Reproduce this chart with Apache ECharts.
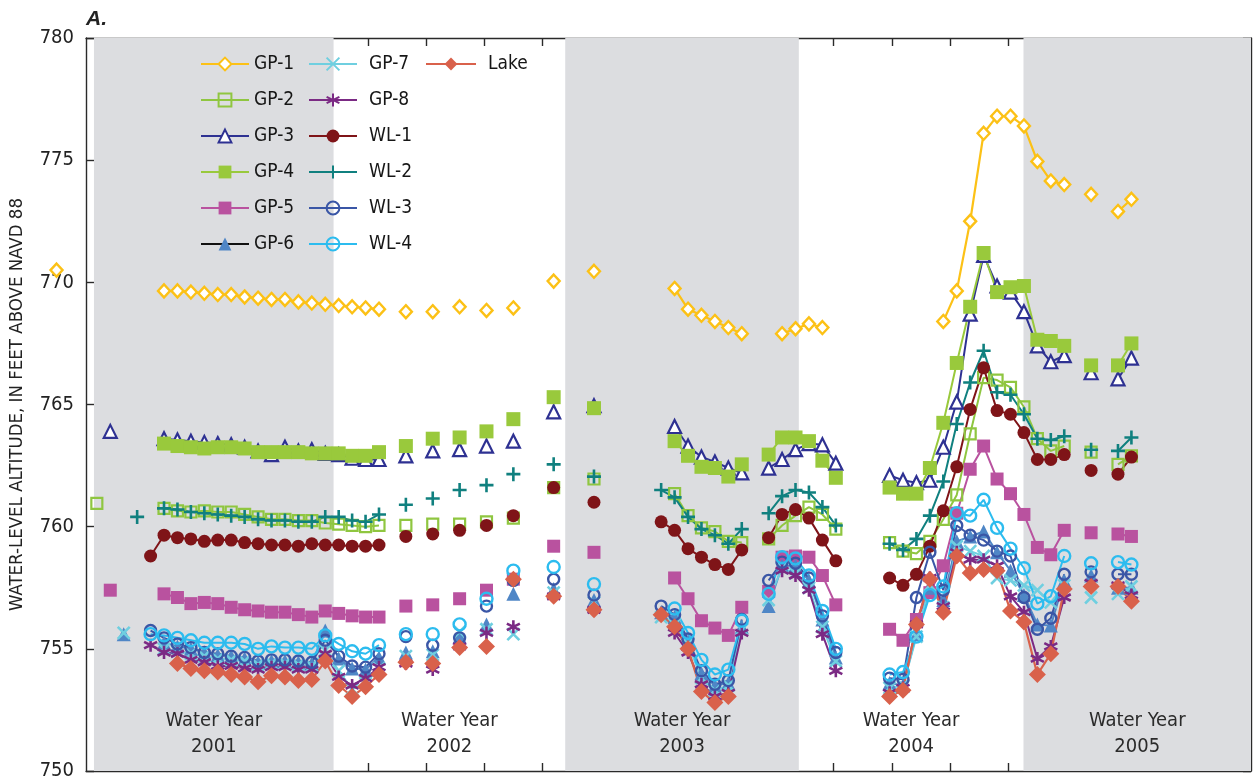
<!DOCTYPE html>
<html>
<head>
<meta charset="utf-8">
<script src="https://cdn.jsdelivr.net/npm/echarts@6/dist/echarts.min.js"></script>
<style>
html,body{margin:0;padding:0;background:#fff;}
#chart{width:1257px;height:782px;}
</style>
</head>
<body>
<div id="chart"></div>
<script>
const NA = null;

// Sampling dates, weeks from the start of the record (3-week sampling grid)
const weeks = [
  -4.5, -1.5, 1.5, 4.5, 7.5, 10.5, 13.5, 16.5,
  19.5, 22.5, 25.5, 28.5, 31.5, 34.5, 37.5, 40.5, 43.5, 46.5, 49.5, 52.5, 55.5, 58.5, 61.5, 64.5, 67.5,
  70.5, 73.5, 76.5, 79.5, 82.5, 85.5, 88.5, 91.5, 94.5, 97.5, 100.5, 103.5, 106.5, 109.5, 112.5, 115.5, 118.5, 121.5, 124.5, 127.5,
  130.5, 133.5, 136.5, 139.5, 142.5, 145.5, 148.5, 151.5, 154.5, 157.5, 160.5, 163.5, 166.5, 169.5, 172.5, 175.5, 178.5,
  181.5, 184.5, 187.5, 190.5, 193.5, 196.5, 199.5, 202.5, 205.5, 208.5, 211.5, 214.5, 217.5, 220.5, 223.5, 226.5, 229.5, 232.5, 235.5
];

// Water-level altitudes, feet above NAVD 88 (NA = not measured)
const gp1 = [
  770.5, NA, NA, NA, NA, NA, NA, NA,
  769.65, 769.65, 769.6, 769.55, 769.5, 769.5, 769.4, 769.35, 769.3, 769.3, 769.2, 769.15, 769.1, 769.05, 769.0, 768.95, 768.9,
  NA, 768.8, NA, 768.8, NA, 769.0, NA, 768.85, NA, 768.95, NA, NA, 770.05, NA, NA, 770.45, NA, NA, NA, NA,
  NA, 769.75, 768.9, 768.65, 768.4, 768.15, 767.9, NA, NA, 767.9, 768.1, 768.3, 768.15, NA, NA, NA, NA,
  NA, NA, NA, NA, 768.4, 769.65, 772.5, 776.1, 776.8, 776.8, 776.4, 774.95, 774.15, 774.0, NA, 773.6, NA, 772.9, 773.4
];
const gp2 = [
  NA, NA, NA, 760.95, NA, NA, NA, NA,
  760.75, 760.65, 760.6, 760.65, 760.6, 760.6, 760.5, 760.4, 760.3, 760.3, 760.25, 760.25, 760.15, 760.1, 760.05, 760.0, 760.05,
  NA, 760.05, NA, 760.1, NA, 760.1, NA, 760.2, NA, 760.35, NA, NA, 761.6, NA, NA, 761.95, NA, NA, NA, NA,
  NA, 761.35, 760.45, 759.95, 759.8, 759.4, 759.35, NA, 759.5, 760.05, 760.45, 760.8, 760.5, 759.9, NA, NA, NA,
  759.35, 759.0, 758.9, 759.4, 760.3, 761.3, 763.8, 766.1, 766.0, 765.7, 764.9, 763.6, 763.1, 763.3, NA, 763.05, NA, 762.55, 762.9
];
const gp3 = [
  NA, NA, NA, NA, 763.9, NA, NA, NA,
  763.6, 763.55, 763.5, 763.45, 763.4, 763.35, 763.25, 763.1, 762.95, 763.25, 763.1, 763.15, 763.0, 762.95, 762.8, 762.75, 762.75,
  NA, 762.9, NA, 763.1, NA, 763.15, NA, 763.3, NA, 763.5, NA, NA, 764.7, NA, NA, 764.95, NA, NA, NA, NA,
  NA, 764.1, 763.3, 762.85, 762.65, 762.4, 762.2, NA, 762.4, 762.75, 763.15, 763.4, 763.35, 762.6, NA, NA, NA,
  762.1, 761.9, 761.8, 761.9, 763.25, 765.1, 768.7, 771.1, 769.85, 769.6, 768.8, 767.4, 766.75, 767.0, NA, 766.3, NA, 766.05, 766.9
];
const gp4 = [
  NA, NA, NA, NA, NA, NA, NA, NA,
  763.4, 763.3, 763.25, 763.2, 763.25, 763.25, 763.2, 763.05, 763.05, 763.05, 763.05, 763.0, 763.0, 763.0, 762.9, 762.9, 763.05,
  NA, 763.3, NA, 763.6, NA, 763.65, NA, 763.9, NA, 764.4, NA, NA, 765.3, NA, NA, 764.85, NA, NA, NA, NA,
  NA, 763.5, 762.9, 762.45, 762.4, 762.05, 762.55, NA, 762.95, 763.65, 763.65, 763.5, 762.7, 762.0, NA, NA, NA,
  761.6, 761.35, 761.35, 762.4, 764.25, 766.7, 769.0, 771.2, 769.6, 769.8, 769.85, 767.65, 767.6, 767.4, NA, 766.6, NA, 766.6, 767.5
];
const gp5 = [
  NA, NA, NA, NA, 757.4, NA, NA, NA,
  757.25, 757.1, 756.85, 756.9, 756.85, 756.7, 756.6, 756.55, 756.5, 756.5, 756.4, 756.3, 756.55, 756.45, 756.35, 756.3, 756.3,
  NA, 756.75, NA, 756.8, NA, 757.05, NA, 757.4, NA, 757.85, NA, NA, 759.2, NA, NA, 758.95, NA, NA, NA, NA,
  NA, 757.9, 757.05, 756.15, 755.85, 755.55, 756.7, NA, 757.35, 758.75, 758.8, 758.75, 758.0, 756.8, NA, NA, NA,
  755.8, 755.35, 756.2, 757.3, 758.4, 760.55, 762.35, 763.3, 761.95, 761.35, 760.5, 759.15, 758.85, 759.85, NA, 759.75, NA, 759.7, 759.6
];
const gp6 = [
  NA, NA, NA, NA, NA, 755.6, NA, NA,
  755.25, 755.1, 755.0, 754.85, 754.75, 754.7, 754.6, 754.45, 754.5, 754.5, 754.45, 754.4, 755.75, 754.6, 754.2, 754.15, 754.65,
  NA, 754.85, NA, 754.9, NA, 755.5, NA, 756.0, NA, 757.25, NA, NA, 757.45, NA, NA, 757.0, NA, NA, NA, NA,
  756.5, 756.3, 755.3, 754.0, 753.5, 753.6, 755.9, NA, 756.75, 758.4, 758.4, 757.8, 756.2, 754.65, NA, NA, NA,
  753.6, 753.5, 755.6, 757.5, 757.0, 759.4, 759.6, 759.8, 758.95, 758.2, 757.2, 756.0, 755.95, 757.8, NA, 758.0, NA, 757.5, 757.5
];
const gp7 = [
  NA, NA, NA, NA, NA, 755.65, NA, NA,
  755.0, 754.9, 754.8, 754.7, 754.6, 754.55, 754.5, 754.35, 754.4, 754.4, 754.35, 754.3, 754.95, 754.1, 753.35, 753.6, 754.2,
  NA, 754.7, NA, 754.75, NA, 755.7, NA, 755.8, NA, 755.6, NA, NA, 757.3, NA, NA, 756.9, NA, NA, NA, NA,
  756.3, 756.0, 755.2, 753.8, 753.3, 753.5, 755.8, NA, 757.0, 758.3, 758.1, 757.5, 755.9, 754.5, NA, NA, NA,
  753.4, 753.5, 755.5, 757.6, 756.7, 759.2, 759.0, 758.8, 757.9, 757.8, 757.6, 757.4, 756.9, 757.6, NA, 757.1, NA, 757.25, 757.55
];
const gp8 = [
  NA, NA, NA, NA, NA, NA, NA, 755.15,
  754.85, 754.8, 754.55, 754.45, 754.3, 754.3, 754.2, 754.15, 754.25, 754.25, 754.15, 754.15, 754.8, 753.85, 753.5, 753.8, 754.25,
  NA, 754.4, NA, 754.15, NA, 755.1, NA, 755.65, NA, 755.9, NA, NA, 757.15, NA, NA, 756.6, NA, NA, NA, NA,
  NA, 755.65, 754.85, 753.55, 753.05, 753.2, 755.65, NA, NA, 758.2, 758.0, 757.4, 755.6, 754.1, NA, NA, NA,
  753.2, 753.4, 756.0, 757.9, 756.75, 758.95, 758.65, 758.65, 758.4, 757.15, 756.5, 754.6, 755.1, 757.1, NA, 757.7, NA, 757.6, 757.2
];
const wl1 = [
  NA, NA, NA, NA, NA, NA, NA, 758.8,
  759.65, 759.55, 759.5, 759.4, 759.45, 759.45, 759.35, 759.3, 759.25, 759.25, 759.2, 759.3, 759.25, 759.25, 759.2, 759.2, 759.25,
  NA, 759.6, NA, 759.7, NA, 759.85, NA, 760.05, NA, 760.45, NA, NA, 761.6, NA, NA, 761.0, NA, NA, NA, NA,
  760.2, 759.85, 759.1, 758.75, 758.45, 758.25, 759.05, NA, 759.55, 760.5, 760.7, 760.35, 759.45, 758.6, NA, NA, NA,
  757.9, 757.6, 758.05, 759.2, 760.65, 762.45, 764.8, 766.5, 764.75, 764.6, 763.85, 762.75, 762.75, 762.95, NA, 762.3, NA, 762.15, 762.85
];
const wl2 = [
  NA, NA, NA, NA, NA, NA, 760.4, NA,
  760.75, 760.7, 760.6, 760.55, 760.5, 760.45, 760.4, 760.3, 760.25, 760.25, 760.2, 760.2, 760.4, 760.4, 760.25, 760.2, 760.5,
  NA, 760.9, NA, 761.15, NA, 761.5, NA, 761.7, NA, 762.15, NA, NA, 762.55, NA, NA, 762.05, NA, NA, NA, NA,
  761.5, 761.2, 760.4, 759.9, 759.65, 759.3, 759.9, NA, 760.55, 761.25, 761.5, 761.4, 760.8, 760.05, NA, NA, NA,
  759.3, 759.05, 759.5, 760.45, 761.85, 764.2, 765.9, 767.2, 765.5, 765.4, 764.6, 763.6, 763.55, 763.7, NA, 763.15, NA, 763.1, 763.65
];
const wl3 = [
  NA, NA, NA, NA, NA, NA, NA, 755.75,
  755.45, 755.2, 755.05, 754.85, 754.8, 754.7, 754.65, 754.5, 754.55, 754.55, 754.5, 754.45, 755.35, 754.7, 754.3, 754.25, 754.8,
  NA, 755.5, NA, 755.15, NA, 755.45, NA, 756.75, NA, 757.8, NA, NA, 757.85, NA, NA, 757.2, NA, NA, NA, NA,
  756.75, 756.4, 755.4, 754.1, 753.55, 753.7, 756.2, NA, 757.8, 758.55, 758.5, 757.9, 756.35, 754.85, NA, NA, NA,
  753.8, 753.75, 757.1, 758.95, 757.4, 760.05, 759.65, 759.45, 759.0, 758.8, 757.1, 755.8, 756.25, 758.05, NA, 758.15, NA, 758.05, 758.05
];
const wl4 = [
  NA, NA, NA, NA, NA, NA, NA, 755.6,
  755.55, 755.45, 755.35, 755.25, 755.25, 755.25, 755.2, 755.0, 755.1, 755.05, 755.05, 755.0, 755.55, 755.2, 754.9, 754.8, 755.15,
  NA, 755.6, NA, 755.6, NA, 756.0, NA, 757.05, NA, 758.2, NA, NA, 758.35, NA, NA, 757.65, NA, NA, NA, NA,
  NA, 756.65, 755.65, 754.55, 753.95, 754.15, 756.15, NA, 757.25, 758.75, 758.7, 758.0, 756.55, 755.0, NA, NA, NA,
  753.95, 754.05, 755.5, 757.2, 757.55, 760.55, 760.45, 761.1, 759.95, 759.1, 758.3, 756.85, 757.15, 758.8, NA, 758.5, NA, 758.55, 758.45
];
const lake = [
  NA, NA, NA, NA, NA, NA, NA, NA,
  NA, 754.4, 754.2, 754.1, 754.05, 753.95, 753.85, 753.65, 753.9, 753.85, 753.7, 753.75, 754.5, 753.5, 753.05, 753.45, 753.95,
  NA, 754.45, NA, 754.4, NA, 755.05, NA, 755.1, NA, 757.85, NA, NA, 757.15, NA, NA, 756.6, NA, NA, NA, NA,
  756.4, 755.9, 755.0, 753.25, 752.8, 753.05, NA, NA, NA, NA, NA, NA, NA, NA, NA, NA, NA,
  753.05, 753.3, 756.0, 757.85, 756.5, 758.8, 758.1, 758.25, 758.2, 756.55, 756.1, 753.95, 754.8, 757.45, NA, 757.55, NA, 757.55, 756.95
];

// Water years: label and span in weeks
const waterYears = ['2001', '2002', '2003', '2004', '2005'];
const wyStart = [3.86, 57.36, 109.08, 161.24, 211.4];
const wyEnd = [57.36, 109.08, 161.24, 211.4, 262.2];
const wyShaded = [true, false, true, false, true];

// Quarterly tick marks (13 weeks)
const tickWeeks = [13, 26, 39, 52, 65, 78, 91, 104, 117, 130, 143, 156, 169, 182, 195, 208, 221, 234, 247, 260];
const yTicks = [750, 755, 760, 765, 770, 775, 780];

const X_MIN = 2.08, X_MAX = 262.2;
const FONT = "'Liberation Sans Narrow', 'Arial Narrow', 'Nimbus Sans Narrow', 'DejaVu Sans Condensed', sans-serif";
const AXIS_COLOR = '#2a2a2a';

const P_X = 'path://M0,0L10,10M10,0L0,10';
const P_PLUS = 'path://M5,0L5,10M0,5L10,5';
const P_STAR = 'path://M5,0L5,10M0.67,2.5L9.33,7.5M9.33,2.5L0.67,7.5';
const CLEAR = 'rgba(0,0,0,0)';

const defs = [
  { name: 'GP-1', vals: gp1, symbol: 'diamond', size: [12, 13], line: '#fcc116', lw: 2.2,
    item: { color: '#fff', borderColor: '#fcc116', borderWidth: 2.4 } },
  { name: 'GP-2', vals: gp2, symbol: 'rect', size: 11, line: '#8fc640', lw: 2,
    item: { color: CLEAR, borderColor: '#8fc640', borderWidth: 2.2 } },
  { name: 'GP-3', vals: gp3, symbol: 'triangle', size: 13, line: '#2e3192', lw: 2,
    item: { color: '#fff', borderColor: '#2e3192', borderWidth: 2.2 } },
  { name: 'GP-4', vals: gp4, symbol: 'rect', size: 14, line: '#99c93c', lw: 2,
    item: { color: '#99c93c' } },
  { name: 'GP-5', vals: gp5, symbol: 'rect', size: 13, line: '#b9529f', lw: 2,
    item: { color: '#b9529f' } },
  { name: 'GP-6', vals: gp6, symbol: 'triangle', size: 14, line: '#4f86c6', lw: 2,
    item: { color: '#4f86c6' } },
  { name: 'GP-7', vals: gp7, symbol: P_X, size: 12, line: '#6fcfe0', lw: 2,
    item: { color: 'none', borderColor: '#6fcfe0', borderWidth: 2.6 } },
  { name: 'GP-8', vals: gp8, symbol: P_STAR, size: 13, line: '#7b2a84', lw: 2,
    item: { color: 'none', borderColor: '#7b2a84', borderWidth: 2.6 } },
  { name: 'WL-1', vals: wl1, symbol: 'circle', size: 13, line: '#7f1418', lw: 2,
    item: { color: '#7f1418' } },
  { name: 'WL-2', vals: wl2, symbol: P_PLUS, size: 14, line: '#10807f', lw: 2,
    item: { color: 'none', borderColor: '#10807f', borderWidth: 2.6 } },
  { name: 'WL-3', vals: wl3, symbol: 'circle', size: 11, line: '#3a56a6', lw: 2,
    item: { color: CLEAR, borderColor: '#3a56a6', borderWidth: 2.4 } },
  { name: 'WL-4', vals: wl4, symbol: 'circle', size: 12, line: '#2cbcef', lw: 2,
    item: { color: CLEAR, borderColor: '#2cbcef', borderWidth: 2.4 } },
  { name: 'Lake', vals: lake, symbol: 'diamond', size: 17, line: '#d9614b', lw: 2.2,
    item: { color: '#d9614b' } }
];

// Water-year bands with their captions
const bandSeries = {
  name: 'water-years', type: 'line', data: [], silent: true, z: 0,
  markArea: {
    silent: true,
    data: waterYears.map((wy, i) => [
      {
        xAxis: wyStart[i],
        itemStyle: { color: wyShaded[i] ? '#dcdde0' : CLEAR },
        label: {
          show: true, position: 'insideBottom', distance: 11,
          formatter: 'Water Year\n' + wy,
          fontFamily: FONT, fontSize: 20, lineHeight: 26, color: '#2b2b2b', align: 'center'
        }
      },
      { xAxis: wyEnd[i] }
    ])
  }
};

const series = [bandSeries].concat(defs.map(d => ({
  name: d.name,
  type: 'line',
  data: weeks.map((w, i) => [w, d.vals[i]]),
  symbol: d.symbol,
  symbolSize: d.size,
  itemStyle: d.item,
  lineStyle: { color: d.line, width: d.lw },
  connectNulls: false,
  clip: d.name !== 'GP-1',
  z: 3,
  silent: true,
  emphasis: { disabled: true }
})));

const legendText = { fontFamily: FONT, fontSize: 19, lineHeight: 20, color: '#161616' };
const legendBase = {
  orient: 'vertical', top: 54, padding: 0, itemWidth: 48, itemHeight: 16, itemGap: 16,
  selectedMode: false, textStyle: legendText
};

const axisLine = { show: true, lineStyle: { color: AXIS_COLOR, width: 1.4 } };
const xTick = { show: true, inside: true, length: 8, customValues: tickWeeks, lineStyle: { color: AXIS_COLOR, width: 1.4 } };
const yTick = { show: true, inside: true, length: 8, customValues: yTicks, lineStyle: { color: AXIS_COLOR, width: 1.4 } };

const option = {
  animation: false,
  backgroundColor: '#fff',
  grid: { left: 84, right: 6, top: 38, bottom: 11, containLabel: false },
  xAxis: [
    { type: 'value', min: X_MIN, max: X_MAX, position: 'bottom', axisLine, axisTick: xTick,
      axisLabel: { show: false }, splitLine: { show: false } },
    { type: 'value', min: X_MIN, max: X_MAX, position: 'top', axisLine, axisTick: xTick,
      axisLabel: { show: false }, splitLine: { show: false } }
  ],
  yAxis: [
    { type: 'value', min: 750, max: 780, interval: 5, position: 'left', axisLine, axisTick: yTick,
      axisLabel: { fontFamily: FONT, fontSize: 20, color: '#222', margin: 12 },
      splitLine: { show: false },
      name: 'WATER-LEVEL ALTITUDE, IN FEET ABOVE NAVD 88', nameLocation: 'middle', nameGap: 59,
      nameTextStyle: { fontFamily: FONT, fontSize: 18.5, color: '#222' } },
    { type: 'value', min: 750, max: 780, interval: 5, position: 'right', axisLine, axisTick: yTick,
      axisLabel: { show: false }, splitLine: { show: false } }
  ],
  legend: [
    Object.assign({}, legendBase, { left: 200,
      data: ['GP-1', 'GP-2', 'GP-3', 'GP-4', 'GP-5',
        { name: 'GP-6', lineStyle: { color: '#111', width: 2 } }] }),
    Object.assign({}, legendBase, { left: 308,
      textStyle: Object.assign({}, legendText, { padding: [0, 0, 0, 7] }),
      data: ['GP-7', 'GP-8', 'WL-1', 'WL-2', 'WL-3', 'WL-4'] }),
    Object.assign({}, legendBase, { left: 425, itemWidth: 50,
      textStyle: Object.assign({}, legendText, { padding: [0, 0, 0, 7] }),
      data: ['Lake'] })
  ],
  graphic: [
    { type: 'text', left: 86, top: 9,
      style: { text: 'A.', font: 'italic bold 21px "Liberation Sans", Arial, sans-serif', fill: '#222' } }
  ],
  series
};

const chart = echarts.init(document.getElementById('chart'), null, { renderer: 'canvas' });
chart.setOption(option);
</script>
</body>
</html>
